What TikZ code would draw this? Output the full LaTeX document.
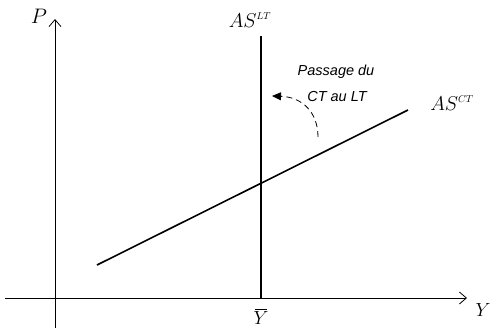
\RequirePackage{fix-cm}
\documentclass[tikz,border=0pt]{standalone}
\usepackage{fontspec}
\newfontfamily\labfont{Liberation Sans}
\usetikzlibrary{arrows.meta}
\begin{document}
\begin{tikzpicture}[x=1pt,y=-1pt,
  axis/.style={line width=0.8pt,-{Straight Barb[length=7pt,width=12pt]}},
  curve/.style={line width=1.6pt},
  mlabel/.style={font=\fontsize{20}{24}\selectfont, inner sep=0pt},
  note/.style={font=\labfont\itshape\fontsize{14.5}{17}\selectfont, inner sep=0pt}]
\useasboundingbox (0,0) rectangle (491,330);
\coordinate (ybot) at (55,328);
\coordinate (ytop) at (55,19);
\coordinate (xl) at (5,298);
\coordinate (xr) at (467,298);
\draw[axis] (ybot) -- (ytop);
\draw[axis] (xl) -- (xr);
\node[mlabel, font=\fontsize{21}{24}\selectfont] (P) at (39,16) {$P$};
\node[mlabel, font=\fontsize{19}{22}\selectfont] (Y) at (483,310) {$Y$};
\coordinate (lttop) at (261,36);
\coordinate (ltbot) at (261,298);
\draw[curve] (lttop) -- (ltbot);
\node[mlabel] (ASLT) at (250,20) {$AS^{\scriptscriptstyle LT}$};
\coordinate (cta) at (97,265);
\coordinate (ctb) at (408,110);
\draw[curve] (cta) -- (ctb);
\node[mlabel] (ASCT) at (452,103) {$AS^{\scriptscriptstyle CT}$};
\node[mlabel, font=\fontsize{19}{22}\selectfont] (Yb) at (261,318) {$Y$};
\draw[line width=1.2pt] ([xshift=-6pt,yshift=2pt]Yb.north) -- ([xshift=6pt,yshift=2pt]Yb.north);
\node[note] (n1) at (336,72) {Passage du};
\node[note] (n2) at (337,97) {CT au LT};
\coordinate (ds) at (318,137);
\coordinate (de) at (272,96);
\draw[line width=0.8pt, dash pattern=on 6pt off 4pt, -{Triangle[length=9pt,width=8pt]}] (ds) .. controls (318,112) and (302,97) .. (de);
\end{tikzpicture}
\end{document}
